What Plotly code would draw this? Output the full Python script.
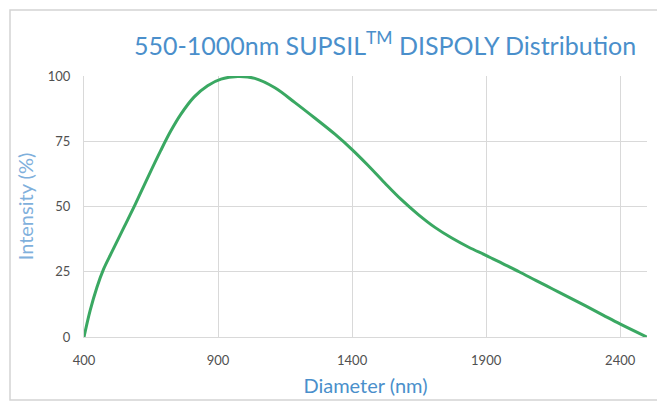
import plotly.graph_objects as go

diameter = [400, 423, 448, 473, 504, 548, 592, 636, 686, 723, 761, 811, 861, 911, 974,
            1037, 1112, 1187, 1262, 1337, 1400, 1459, 1522, 1584, 1647, 1709, 1772, 1835,
            1901, 1960, 2023, 2085, 2148, 2211, 2273, 2336, 2399, 2499]
intensity = [0, 10.2, 19.0, 26.0, 32.6, 41.8, 51.0, 60.7, 71.4, 78.8, 85.3, 92.0, 96.3, 98.8, 99.8,
             99.1, 95.5, 89.8, 83.8, 77.6, 71.8, 65.8, 59.0, 52.6, 46.9, 42.0, 37.9, 34.4,
             31.2, 28.2, 25.0, 21.7, 18.4, 15.1, 11.8, 8.4, 5.0, 0]
x_ticks = [400, 900, 1400, 1900, 2400]
y_ticks = [0, 25, 50, 75, 100]

FONT = "Lato, sans-serif"
BLUE = "#4a8fcb"

fig = go.Figure()
fig.add_trace(go.Scatter(x=diameter, y=intensity, mode="lines",
                         line=dict(color="#3aa862", width=3, shape="spline", smoothing=1.0),
                         showlegend=False, hoverinfo="skip"))

fig.update_layout(
    width=665, height=402,
    margin=dict(l=76, r=26, t=68, b=73),
    paper_bgcolor="white", plot_bgcolor="white",
    font=dict(family=FONT, color="#595959"),
    title=dict(text="550-1000nm SUPSIL<sup>TM</sup> DISPOLY Distribution",
               x=0.567, xanchor="center", y=0.905, yanchor="middle",
               font=dict(size=25, color=BLUE, family=FONT)),
    xaxis=dict(range=[400, 2500], tickvals=x_ticks, showgrid=True, gridcolor="#d9d9d9",
               gridwidth=1, zeroline=False, showline=True, linecolor="#d9d9d9",
               ticks="", ticklabelstandoff=11, automargin=False,
               tickfont=dict(size=13, color="#505050"),
               title=dict(text="Diameter (nm)", font=dict(size=20, color=BLUE), standoff=12)),
    yaxis=dict(range=[0, 100], tickvals=y_ticks, showgrid=True, gridcolor="#d9d9d9",
               gridwidth=1, zeroline=False, showline=True, linecolor="#d9d9d9",
               ticks="", ticklabelstandoff=10, automargin=False,
               tickfont=dict(size=13, color="#505050"),
               title=dict(text="Intensity (%)", font=dict(size=20, color="#7fb0dc"), standoff=8)),
    shapes=[dict(type="rect", xref="paper", yref="paper",
                 x0=-74 / 563, x1=1.2, y0=-63 / 261, y1=1 + 66 / 261,
                 line=dict(color="#d4d4d4", width=1.5), fillcolor="rgba(0,0,0,0)", layer="below")],
)

fig.write_html("out.html")
